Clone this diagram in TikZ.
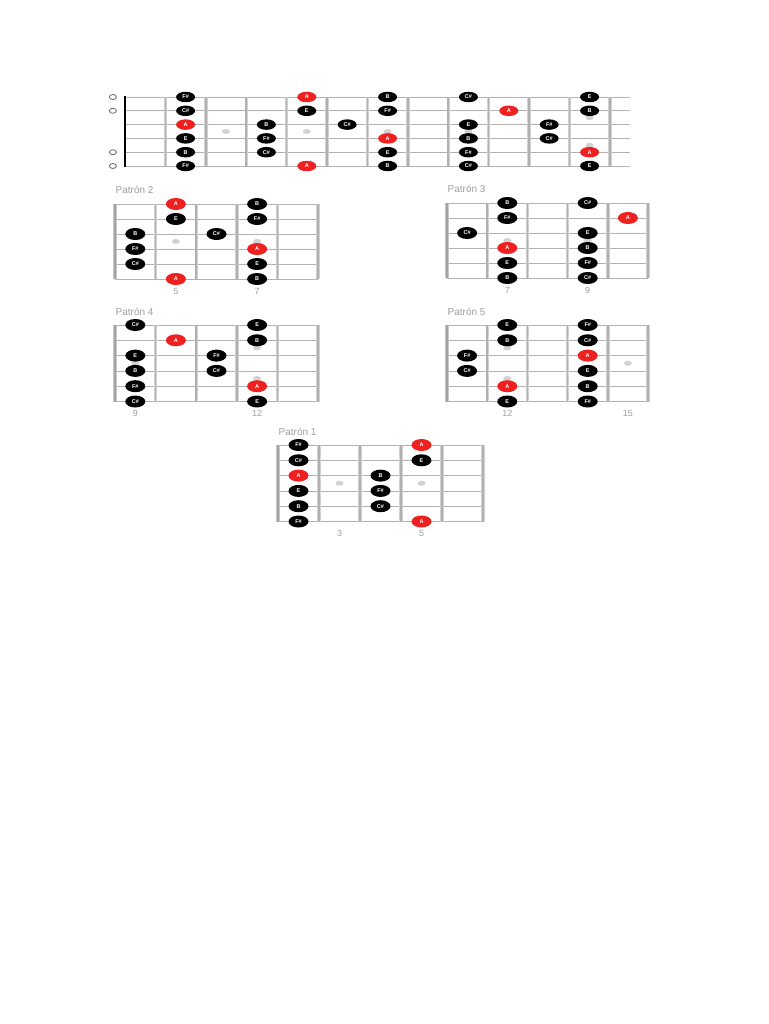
\documentclass[tikz,border=0pt]{standalone}
\usepackage{fontspec}
\setmainfont{Liberation Sans}
\usetikzlibrary{shapes.geometric}
\definecolor{rootred}{RGB}{238,32,32}
\tikzset{
  gstring/.style={draw=gray!60, line width=0.8pt},
  fretbar/.style={draw=gray!35, double=gray!62, double distance=1.6pt, line width=0.9pt},
  edgebar/.style={draw=gray!45, double=gray!72, double distance=2.4pt, line width=1pt},
  nutbar/.style={draw=black, line width=2.4pt},
  note/.style={ellipse, fill=black, text=white, minimum width=20pt, minimum height=12pt, inner sep=0pt, font=\fontsize{5.5}{5.5}\selectfont\bfseries},
  root/.style={note, fill=rootred},
  inlay/.style={ellipse, fill=gray!35, minimum width=8pt, minimum height=5pt, inner sep=0pt},
  openmark/.style={ellipse, draw=gray!80!black, line width=0.8pt, minimum width=7pt, minimum height=5pt, inner sep=0pt},
  title/.style={anchor=west, text=gray!75, font=\fontsize{10}{10}\selectfont},
  fretno/.style={text=gray!75, font=\fontsize{9}{9}\selectfont},
}
\newcommand{\neckgrid}{%
  \foreach \s in {0,...,5} \draw[gstring] (0,\s) -- (5,\s);
  \foreach \f in {1,...,5} \draw[fretbar] (\f,0) -- (\f,5);
  \draw[edgebar] (0,0) -- (0,5);
}
\begin{document}
\begin{tikzpicture}[x=1pt,y=-1pt]
\fill[white] (0,0) rectangle (768,1024);

% whole neck
\begin{scope}[shift={(125,97)},x=40.4pt,y=-13.8pt]
\foreach \s in {0,...,5} \draw[gstring] (0,\s) -- (12.5,\s);
\foreach \f in {1,...,12} \draw[fretbar] (\f,0) -- (\f,5);
\draw[nutbar] (0,-0.1) -- (0,5.1);
\node[openmark] (o1) at (-0.3,0) {};
\node[openmark] (o2) at (-0.3,1) {};
\node[openmark] (o5) at (-0.3,4) {};
\node[openmark] (o6) at (-0.3,5) {};
\node[inlay] (t-in3) at (2.5,2.5) {};
\node[inlay] (t-in5) at (4.5,2.5) {};
\node[inlay] (t-in7) at (6.5,2.5) {};
\node[inlay] (t-in9) at (8.5,2.5) {};
\node[inlay] (t-in12a) at (11.5,1.5) {};
\node[inlay] (t-in12b) at (11.5,3.5) {};
\tikzset{note/.append style={minimum width=19pt, minimum height=10.5pt}}
\node[note] (t-2-1) at (1.5,0) {F\#};
\node[note] (t-2-2) at (1.5,1) {C\#};
\node[root] (t-2-3) at (1.5,2) {A};
\node[note] (t-2-4) at (1.5,3) {E};
\node[note] (t-2-5) at (1.5,4) {B};
\node[note] (t-2-6) at (1.5,5) {F\#};
\node[note] (t-4-3) at (3.5,2) {B};
\node[note] (t-4-4) at (3.5,3) {F\#};
\node[note] (t-4-5) at (3.5,4) {C\#};
\node[root] (t-5-1) at (4.5,0) {A};
\node[note] (t-5-2) at (4.5,1) {E};
\node[root] (t-5-6) at (4.5,5) {A};
\node[note] (t-6-3) at (5.5,2) {C\#};
\node[note] (t-7-1) at (6.5,0) {B};
\node[note] (t-7-2) at (6.5,1) {F\#};
\node[root] (t-7-4) at (6.5,3) {A};
\node[note] (t-7-5) at (6.5,4) {E};
\node[note] (t-7-6) at (6.5,5) {B};
\node[note] (t-9-1) at (8.5,0) {C\#};
\node[note] (t-9-3) at (8.5,2) {E};
\node[note] (t-9-4) at (8.5,3) {B};
\node[note] (t-9-5) at (8.5,4) {F\#};
\node[note] (t-9-6) at (8.5,5) {C\#};
\node[root] (t-10-2) at (9.5,1) {A};
\node[note] (t-11-3) at (10.5,2) {F\#};
\node[note] (t-11-4) at (10.5,3) {C\#};
\node[note] (t-12-1) at (11.5,0) {E};
\node[note] (t-12-2) at (11.5,1) {B};
\node[root] (t-12-5) at (11.5,4) {A};
\node[note] (t-12-6) at (11.5,5) {E};
\end{scope}

% Patron 2
\begin{scope}[shift={(115,204)},x=40.6pt,y=-15pt]
\neckgrid
\node[title] (p2-title) at (-0.07,-0.93) {Patrón 2};
\node[inlay] (p2-in5) at (1.5,2.5) {};
\node[inlay] (p2-in7) at (3.5,2.5) {};
\node[note] (p2-4-3) at (0.5,2) {B};
\node[note] (p2-4-4) at (0.5,3) {F\#};
\node[note] (p2-4-5) at (0.5,4) {C\#};
\node[root] (p2-5-1) at (1.5,0) {A};
\node[note] (p2-5-2) at (1.5,1) {E};
\node[root] (p2-5-6) at (1.5,5) {A};
\node[note] (p2-6-3) at (2.5,2) {C\#};
\node[note] (p2-7-1) at (3.5,0) {B};
\node[note] (p2-7-2) at (3.5,1) {F\#};
\node[root] (p2-7-4) at (3.5,3) {A};
\node[note] (p2-7-5) at (3.5,4) {E};
\node[note] (p2-7-6) at (3.5,5) {B};
\node[fretno] (p2-n5) at (1.5,5.85) {5};
\node[fretno] (p2-n7) at (3.5,5.85) {7};
\end{scope}

% Patron 3
\begin{scope}[shift={(447,203)},x=40.2pt,y=-15pt]
\neckgrid
\node[title] (p3-title) at (-0.07,-0.93) {Patrón 3};
\node[inlay] (p3-in7) at (1.5,2.5) {};
\node[inlay] (p3-in9) at (3.5,2.5) {};
\node[note] (p3-6-3) at (0.5,2) {C\#};
\node[note] (p3-7-1) at (1.5,0) {B};
\node[note] (p3-7-2) at (1.5,1) {F\#};
\node[root] (p3-7-4) at (1.5,3) {A};
\node[note] (p3-7-5) at (1.5,4) {E};
\node[note] (p3-7-6) at (1.5,5) {B};
\node[note] (p3-9-1) at (3.5,0) {C\#};
\node[note] (p3-9-3) at (3.5,2) {E};
\node[note] (p3-9-4) at (3.5,3) {B};
\node[note] (p3-9-5) at (3.5,4) {F\#};
\node[note] (p3-9-6) at (3.5,5) {C\#};
\node[root] (p3-10-2) at (4.5,1) {A};
\node[fretno] (p3-n7) at (1.5,5.85) {7};
\node[fretno] (p3-n9) at (3.5,5.85) {9};
\end{scope}

% Patron 4
\begin{scope}[shift={(115,325)},x=40.6pt,y=-15.3pt]
\neckgrid
\node[title] (p4-title) at (-0.07,-0.85) {Patrón 4};
\node[inlay] (p4-in9) at (0.5,2.5) {};
\node[inlay] (p4-in12a) at (3.5,1.5) {};
\node[inlay] (p4-in12b) at (3.5,3.5) {};
\node[note] (p4-9-1) at (0.5,0) {C\#};
\node[note] (p4-9-3) at (0.5,2) {E};
\node[note] (p4-9-4) at (0.5,3) {B};
\node[note] (p4-9-5) at (0.5,4) {F\#};
\node[note] (p4-9-6) at (0.5,5) {C\#};
\node[root] (p4-10-2) at (1.5,1) {A};
\node[note] (p4-11-3) at (2.5,2) {F\#};
\node[note] (p4-11-4) at (2.5,3) {C\#};
\node[note] (p4-12-1) at (3.5,0) {E};
\node[note] (p4-12-2) at (3.5,1) {B};
\node[root] (p4-12-5) at (3.5,4) {A};
\node[note] (p4-12-6) at (3.5,5) {E};
\node[fretno] (p4-n9) at (0.5,5.8) {9};
\node[fretno] (p4-n12) at (3.5,5.8) {12};
\end{scope}

% Patron 5
\begin{scope}[shift={(447,325)},x=40.2pt,y=-15.3pt]
\neckgrid
\node[title] (p5-title) at (-0.07,-0.85) {Patrón 5};
\node[inlay] (p5-in12a) at (1.5,1.5) {};
\node[inlay] (p5-in12b) at (1.5,3.5) {};
\node[inlay] (p5-in15) at (4.5,2.5) {};
\node[note] (p5-11-3) at (0.5,2) {F\#};
\node[note] (p5-11-4) at (0.5,3) {C\#};
\node[note] (p5-12-1) at (1.5,0) {E};
\node[note] (p5-12-2) at (1.5,1) {B};
\node[root] (p5-12-5) at (1.5,4) {A};
\node[note] (p5-12-6) at (1.5,5) {E};
\node[note] (p5-14-1) at (3.5,0) {F\#};
\node[note] (p5-14-2) at (3.5,1) {C\#};
\node[root] (p5-14-3) at (3.5,2) {A};
\node[note] (p5-14-4) at (3.5,3) {E};
\node[note] (p5-14-5) at (3.5,4) {B};
\node[note] (p5-14-6) at (3.5,5) {F\#};
\node[fretno] (p5-n12) at (1.5,5.8) {12};
\node[fretno] (p5-n15) at (4.5,5.8) {15};
\end{scope}

% Patron 1
\begin{scope}[shift={(278,445)},x=41pt,y=-15.3pt]
\neckgrid
\node[title] (p1-title) at (-0.07,-0.85) {Patrón 1};
\node[inlay] (p1-in3) at (1.5,2.5) {};
\node[inlay] (p1-in5) at (3.5,2.5) {};
\node[note] (p1-2-1) at (0.5,0) {F\#};
\node[note] (p1-2-2) at (0.5,1) {C\#};
\node[root] (p1-2-3) at (0.5,2) {A};
\node[note] (p1-2-4) at (0.5,3) {E};
\node[note] (p1-2-5) at (0.5,4) {B};
\node[note] (p1-2-6) at (0.5,5) {F\#};
\node[note] (p1-4-3) at (2.5,2) {B};
\node[note] (p1-4-4) at (2.5,3) {F\#};
\node[note] (p1-4-5) at (2.5,4) {C\#};
\node[root] (p1-5-1) at (3.5,0) {A};
\node[note] (p1-5-2) at (3.5,1) {E};
\node[root] (p1-5-6) at (3.5,5) {A};
\node[fretno] (p1-n3) at (1.5,5.8) {3};
\node[fretno] (p1-n5) at (3.5,5.8) {5};
\end{scope}
\end{tikzpicture}
\end{document}
